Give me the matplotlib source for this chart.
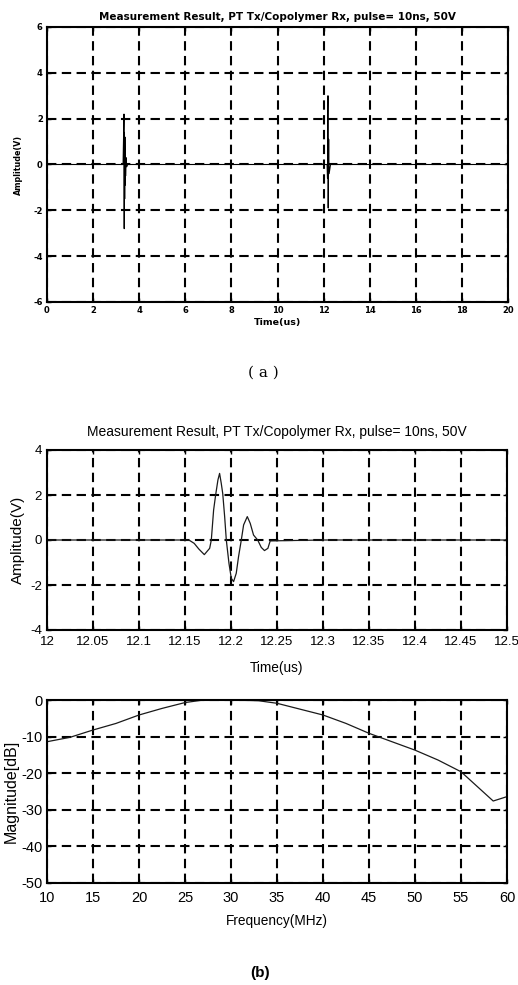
"""
plot.py

Redraws the PT Tx / copolymer Rx pulse measurement figure:
(a) the full 20 us trace, (b) a zoom on the received echo and its spectrum.
"""

import matplotlib
matplotlib.use("Agg")
import matplotlib.pyplot as plt

plt.rcParams["axes.unicode_minus"] = False

# (a) full record, 0-20 us
time_full = [0.0, 3.30, 3.34, 3.35, 3.36, 3.37, 3.38, 3.39, 3.40, 3.41, 3.43, 3.46, 3.50,
             12.15, 12.17, 12.18, 12.19, 12.20, 12.21, 12.22, 12.23, 12.24, 12.30, 20.0]
amp_full = [0.0, 0.0, 2.2, -2.8, 1.4, -1.5, 1.2, -0.9, 0.6, -0.5, 0.3, -0.1, 0.0,
            0.0, -0.6, 2.2, 3.0, -1.9, 0.2, 1.1, 0.1, -0.4, 0.0, 0.0]

# (b) zoom on the received echo
time_echo = [12.0, 12.10, 12.15, 12.155, 12.160, 12.165, 12.171, 12.1768, 12.1786, 12.1811,
             12.1833, 12.1858, 12.1876, 12.1894, 12.191, 12.1931, 12.1949, 12.1978, 12.2003,
             12.2028, 12.2057, 12.2082, 12.2112, 12.2137, 12.2177, 12.2209, 12.2245, 12.229,
             12.2329, 12.2364, 12.2401, 12.2426, 12.30, 12.5]
amp_echo = [0.0, 0.0, 0.0, -0.02, -0.15, -0.40, -0.65, -0.37, 0.0, 1.33,
            2.0, 2.67, 2.96, 2.52, 2.07, 1.04, 0.0, -1.04, -1.70,
            -1.85, -1.48, -0.74, 0.0, 0.67, 1.04, 0.74, 0.22, 0.0,
            -0.33, -0.47, -0.37, -0.04, 0.0, 0.0]
echo_ticks = [12, 12.05, 12.1, 12.15, 12.2, 12.25, 12.3, 12.35, 12.4, 12.45, 12.5]
echo_ticklabels = ["12", "12.05", "12.1", "12.15", "12.2", "12.25", "12.3", "12.35",
                   "12.4", "12.45", "12.5"]

# (b) spectrum of the echo
freq = [10, 12.5, 15, 17.5, 20, 22.5, 25, 27, 30, 33, 35, 40, 42.5, 45, 47.5, 50, 52.5, 55, 58.5, 60]
mag_db = [-11.4, -10.2, -8.2, -6.4, -4.1, -2.3, -0.7, 0.0, 0.0, -0.2, -0.9, -4.1, -6.4, -9.1,
          -11.4, -13.7, -16.4, -19.6, -27.6, -26.4]

TITLE = "Measurement Result, PT Tx/Copolymer Rx, pulse= 10ns, 50V"
GRID = dict(color="black", linestyle=(0, (4.5, 2.6)), linewidth=1.5)
W, H = 518, 985


def frame(ax, fontsize, weight, family, xpad=2, ypad=2):
    ax.set_axisbelow(True)
    ax.grid(True, **GRID)
    for s in ax.spines.values():
        s.set_linewidth(1.5)
        s.set_color("black")
    ax.tick_params(direction="in", length=3, width=1, top=True, right=True,
                   labelsize=fontsize)
    ax.tick_params(axis="x", pad=xpad)
    ax.tick_params(axis="y", pad=ypad)
    for lab in ax.get_xticklabels() + ax.get_yticklabels():
        lab.set_fontweight(weight)
        lab.set_family(family)


def box(left, top, right, bottom):
    return [left / W, 1 - bottom / H, (right - left) / W, (bottom - top) / H]


fig = plt.figure(figsize=(W / 100, H / 100), dpi=100)

# (a)
ax1 = fig.add_axes(box(47, 27, 508, 302))
ax1.plot(time_full, amp_full, color="black", linewidth=0.8)
ax1.set_xlim(0, 20)
ax1.set_ylim(-6, 6)
ax1.set_xticks(range(0, 21, 2))
ax1.set_yticks(range(-6, 7, 2))
frame(ax1, 6, "bold", "DejaVu Sans", xpad=3, ypad=3)
ax1.set_title(TITLE, fontsize=7.5, fontweight="bold", pad=5)
ax1.set_xlabel("Time(us)", fontsize=6.8, fontweight="bold", labelpad=2)
ax1.set_ylabel("Amplitude(V)", fontsize=5.8, fontweight="bold")
ax1.yaxis.set_label_coords(-0.052, 0.5)
fig.text(263 / W, 1 - 373 / H, "( a )", family="DejaVu Serif", fontsize=11,
         ha="center", va="center")

# (b) echo
sans = "Liberation Sans"
ax2 = fig.add_axes(box(47, 450, 507, 630))
ax2.plot(time_echo, amp_echo, color="#1a1a1a", linewidth=0.9)
ax2.set_xlim(12, 12.5)
ax2.set_ylim(-4, 4)
ax2.set_xticks(echo_ticks)
ax2.set_xticklabels(echo_ticklabels)
ax2.set_yticks([-4, -2, 0, 2, 4])
frame(ax2, 9.5, "normal", sans, xpad=4.5, ypad=3.5)
ax2.set_title(TITLE, fontsize=10, family=sans, pad=10)
ax2.set_xlabel("Time(us)", fontsize=9.8, family=sans, labelpad=9)
ax2.set_ylabel("Amplitude(V)", fontsize=11, family=sans)
ax2.yaxis.set_label_coords(-0.048, 0.5)

# (b) spectrum
ax3 = fig.add_axes(box(47, 700, 507, 883))
ax3.plot(freq, mag_db, color="#1a1a1a", linewidth=0.9)
ax3.set_xlim(10, 60)
ax3.set_ylim(-50, 0)
ax3.set_xticks(range(10, 61, 5))
ax3.set_yticks(range(-50, 1, 10))
frame(ax3, 10.5, "normal", sans, xpad=5.5, ypad=3)
ax3.set_xlabel("Frequency(MHz)", fontsize=9.8, family=sans, labelpad=7)
ax3.set_ylabel("Magnitude[dB]", fontsize=11.5, family=sans)
ax3.yaxis.set_label_coords(-0.062, 0.5)
fig.text(260 / W, 1 - 973 / H, "(b)", family=sans, fontweight="bold", fontsize=11,
         ha="center", va="center")

fig.savefig("out.png", dpi=100)
